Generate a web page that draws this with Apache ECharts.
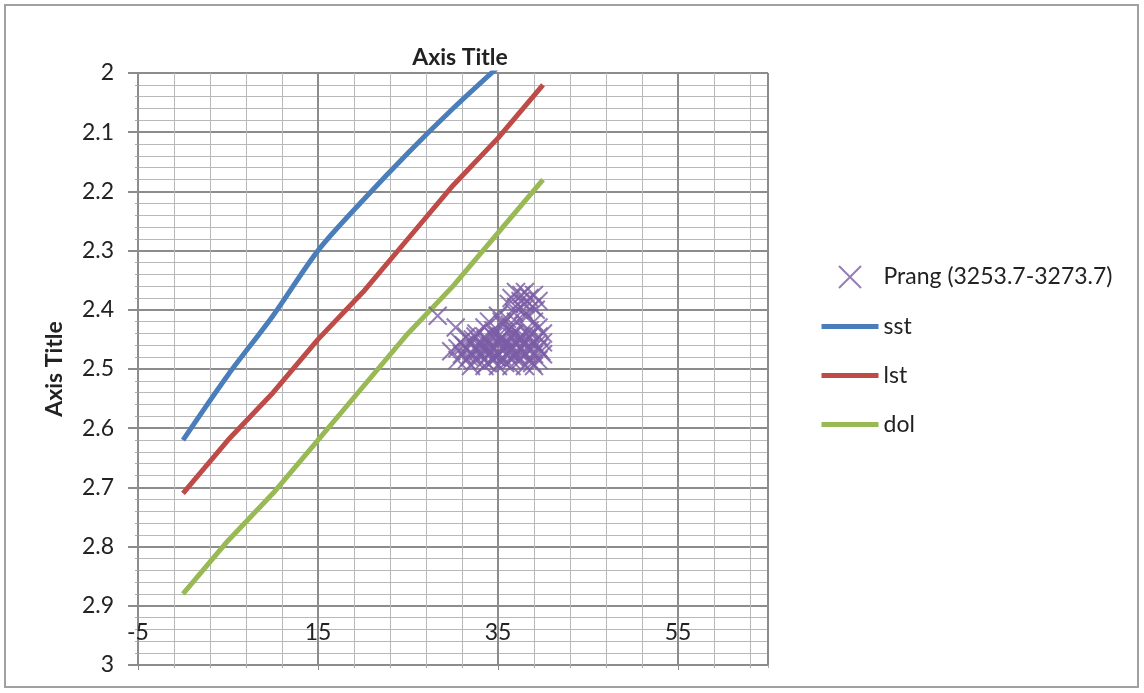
<!DOCTYPE html>
<html>
<head>
<meta charset="utf-8">
<script src="https://cdn.jsdelivr.net/npm/echarts@6/dist/echarts.min.js"></script>
<style>
  html, body { margin: 0; padding: 0; background: #fff; }
  #chart { width: 1144px; height: 693px; }
</style>
</head>
<body>
<div id="chart"></div>
<script>
// tick labels / axis ranges
const xTicks = [-5, 15, 35, 55];
const yTicks = [2, 2.1, 2.2, 2.3, 2.4, 2.5, 2.6, 2.7, 2.8, 2.9, 3];

// line series
const sstX = [0, 5, 10, 15, 20, 25, 30, 35];
const sstY = [2.62, 2.51, 2.41, 2.30, 2.215, 2.135, 2.06, 1.99];
const lstX = [0, 5, 10, 15, 20, 25, 30, 35, 40];
const lstY = [2.71, 2.62, 2.54, 2.45, 2.37, 2.28, 2.19, 2.11, 2.02];
const dolX = [0, 5, 10, 15, 20, 25, 30, 35, 40];
const dolY = [2.88, 2.79, 2.71, 2.62, 2.53, 2.44, 2.36, 2.27, 2.18];

// Prang (3253.7-3273.7) scatter points
const prangX = [
  28.3, 30.3, 29.8,
  36.5, 37, 37.5, 38, 38.5, 39, 39.5, 37, 38, 36.2, 38.8, 37.6,
  34, 35, 36, 37, 38, 39, 35.5, 33.5, 34.5, 36.5, 38.5, 39.5, 40,
  31.5, 32.5, 33.5, 34.5, 35.5, 36.5, 37.5, 38.5, 39.5,
  30.8, 32, 33, 34, 35, 36, 37, 38, 39, 40,
  30.5, 31.5, 32.5, 33.5, 34.5, 35.5, 36.5, 37.5, 38.5, 39.5,
  31, 32, 33, 34, 35, 36, 37, 38, 39, 40,
  30.5, 31.5, 32.5, 33.5, 34.5, 35.5, 36.5, 37.5, 38.5, 39.5,
  32, 33.5, 35, 36.5, 38, 39,
  34.2, 35.2, 36.2, 33.8, 35.8, 37.2, 34.8, 36.8,
  31.2, 32.2, 33.2, 34.2, 35.2, 36.2, 37.2, 38.2, 39.2,
  31.8, 32.8, 33.8, 34.8, 35.8, 36.8, 37.8, 38.8, 39.8,
  32.6, 33.6, 34.6, 35.6, 36.6, 37.6, 38.6,
  36.8, 37.8, 38.3, 39.2, 35.4, 36.3
];
const prangY = [
  2.41, 2.43, 2.47,
  2.38, 2.37, 2.385, 2.37, 2.38, 2.375, 2.385, 2.395, 2.39, 2.39, 2.395, 2.375,
  2.42, 2.41, 2.415, 2.42, 2.41, 2.42, 2.425, 2.43, 2.435, 2.43, 2.435, 2.43, 2.44,
  2.445, 2.445, 2.445, 2.445, 2.445, 2.445, 2.445, 2.445, 2.445,
  2.455, 2.455, 2.455, 2.455, 2.455, 2.455, 2.455, 2.455, 2.455, 2.455,
  2.465, 2.465, 2.465, 2.465, 2.465, 2.465, 2.465, 2.465, 2.465, 2.465,
  2.475, 2.475, 2.475, 2.475, 2.475, 2.475, 2.475, 2.475, 2.475, 2.475,
  2.485, 2.485, 2.485, 2.485, 2.485, 2.485, 2.485, 2.485, 2.485, 2.485,
  2.495, 2.495, 2.495, 2.495, 2.495, 2.495,
  2.46, 2.45, 2.47, 2.47, 2.46, 2.45, 2.48, 2.44,
  2.46, 2.45, 2.46, 2.47, 2.45, 2.46, 2.47, 2.45, 2.46,
  2.48, 2.47, 2.49, 2.48, 2.49, 2.48, 2.47, 2.49, 2.47,
  2.44, 2.45, 2.44, 2.45, 2.44, 2.45, 2.44,
  2.405, 2.40, 2.41, 2.40, 2.42, 2.425
];

const pairs = (xs, ys) => xs.map((x, i) => [x, ys[i]]);
const FONT = 'Lato, "Open Sans", sans-serif';
const FS = 23;
const crossPath = 'path://M0,0L10,10M10,0L0,10';
const lineLegend = { itemStyle: { opacity: 0 } };

const chart = echarts.init(document.getElementById('chart'));

const option = {
  animation: false,
  backgroundColor: '#fff',
  textStyle: { fontFamily: FONT },
  graphic: [{
    type: 'rect',
    shape: { x: 5, y: 5, width: 1133, height: 682 },
    style: { fill: 'none', stroke: '#a0a0a0', lineWidth: 2 },
    silent: true
  }],
  title: {
    text: 'Axis Title',
    left: 455,
    top: 41,
    textAlign: 'center',
    textStyle: { fontFamily: FONT, fontSize: FS, fontWeight: 'bold', color: '#222' }
  },
  grid: { left: 138, right: 376, top: 73, bottom: 28 },
  legend: {
    orient: 'vertical',
    left: 814,
    top: 260,
    itemWidth: 57,
    itemHeight: 22,
    itemGap: 26,
    lineStyle: { width: 5 },
    textStyle: { fontFamily: FONT, fontSize: FS, color: '#222', lineHeight: 22 },
    data: [
      { name: 'Prang (3253.7-3273.7)' },
      Object.assign({ name: 'sst' }, lineLegend),
      Object.assign({ name: 'lst' }, lineLegend),
      Object.assign({ name: 'dol' }, lineLegend)
    ]
  },
  xAxis: [
    {
      // minor grid, every 4
      type: 'value',
      min: xTicks[0],
      max: 65,
      interval: 4,
      position: 'bottom',
      axisLine: { show: false, onZero: false },
      axisTick: { show: true, length: 3, lineStyle: { color: '#aaa' } },
      axisLabel: { show: false },
      splitLine: { show: true, lineStyle: { color: '#b8b8b8', width: 1 } }
    },
    {
      // major grid + labels, every 20
      type: 'value',
      min: xTicks[0],
      max: 65,
      interval: xTicks[1] - xTicks[0],
      position: 'bottom',
      axisLine: { show: false, onZero: false },
      axisTick: { show: true, length: 5, lineStyle: { color: '#8a8a8a' } },
      axisLabel: {
        inside: true, margin: 21, showMaxLabel: false,
        fontFamily: FONT, fontSize: FS, color: '#222'
      },
      splitLine: { show: true, lineStyle: { color: '#8c8c8c', width: 2 } }
    }
  ],
  yAxis: {
    type: 'value',
    inverse: true,
    min: yTicks[0],
    max: yTicks[yTicks.length - 1],
    interval: 0.1,
    position: 'left',
    name: 'Axis Title',
    nameLocation: 'middle',
    nameRotate: 90,
    nameGap: 72,
    nameTextStyle: { fontFamily: FONT, fontSize: FS, fontWeight: 'bold', color: '#222' },
    axisLine: { show: true, onZero: false, lineStyle: { color: '#8c8c8c', width: 2 } },
    axisTick: { show: true, length: 10, lineStyle: { color: '#8c8c8c', width: 2 } },
    minorTick: { show: true, splitNumber: 5, length: 3, lineStyle: { color: '#aaa' } },
    axisLabel: { margin: 24, fontFamily: FONT, fontSize: FS, color: '#222' },
    splitLine: { show: true, lineStyle: { color: '#8c8c8c', width: 2 } },
    minorSplitLine: { show: true, lineStyle: { color: '#b8b8b8', width: 1 } }
  },
  series: [
    {
      name: 'Prang (3253.7-3273.7)',
      type: 'scatter',
      xAxisIndex: 0,
      symbol: crossPath,
      symbolSize: 18,
      itemStyle: { color: 'transparent', borderColor: '#7b5ca5', borderWidth: 2 },
      data: pairs(prangX, prangY),
      z: 3
    },
    {
      name: 'sst',
      type: 'line',
      xAxisIndex: 0,
      symbol: 'none',
      smooth: 0.3,
      lineStyle: { color: '#4a7ebb', width: 5 },
      itemStyle: { color: '#4a7ebb' },
      data: pairs(sstX, sstY)
    },
    {
      name: 'lst',
      type: 'line',
      xAxisIndex: 0,
      symbol: 'none',
      lineStyle: { color: '#be4b48', width: 5 },
      itemStyle: { color: '#be4b48' },
      data: pairs(lstX, lstY)
    },
    {
      name: 'dol',
      type: 'line',
      xAxisIndex: 0,
      symbol: 'none',
      lineStyle: { color: '#98b954', width: 5 },
      itemStyle: { color: '#98b954' },
      data: pairs(dolX, dolY)
    }
  ]
};

chart.setOption(option);
</script>
</body>
</html>
